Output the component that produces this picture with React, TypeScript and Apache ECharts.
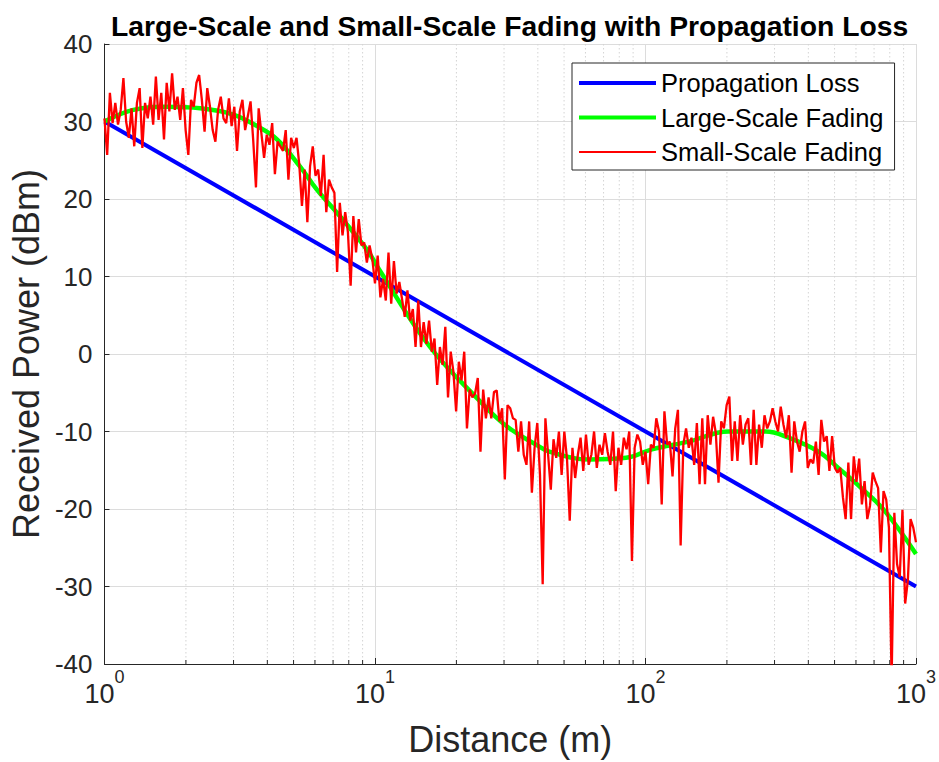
import React, { useEffect, useRef } from "react";
import * as echarts from "echarts";

// Received power vs. distance: deterministic path loss, shadowing trend and fast fading.
const FONT = "'Liberation Sans', Arial, Helvetica, sans-serif";

const seriesNames = ["Propagation Loss", "Large-Scale Fading", "Small-Scale Fading"];

// Propagation loss (dBm) at the end points of the range; a straight line on the log axis.
const propagationDistance = [1, 1000];
const propagationDbm = [30, -30];

// Large-scale (shadowing) trend, distance in m and power in dBm.
const largeScaleDistance = [
  1, 1.279, 1.707, 2.259, 2.989, 3.664, 4.342, 5.278, 6.098, 7.411, 9.32, 10.4, 15.9, 24.3, 30.6,
  39.4, 44.1, 61.9, 84.7, 105.6, 144.5, 203, 278, 338, 436, 516, 628, 769, 1000,
];
const largeScaleDbm = [
  30.0, 31.5, 31.9, 31.7, 30.9, 29.4, 27.7, 24.2, 21.2, 17.8, 13.5, 10.8, 1.0, -6.0, -9.3,
  -11.7, -12.6, -13.6, -13.4, -12.3, -11.3, -10.0, -10.0, -10.8, -12.6, -14.7, -17.3, -20.3, -25.8,
];

// Small-scale fading samples (dBm), 100 samples per decade from 1 m to 1000 m.
const smallScaleDbm = [
  30.4, 25.7, 33.7, 29.8, 32.4, 29.6, 31.5, 35.6, 30.0, 27.9,
  31.7, 26.8, 32.4, 34.3, 26.6, 32.4, 30.4, 33.2, 29.6, 35.8,
  30.2, 33.7, 27.7, 35.0, 31.3, 36.2, 31.5, 33.2, 30.2, 34.3,
  28.9, 25.7, 32.8, 31.9, 35.0, 36.0, 32.8, 28.7, 34.3, 31.9,
  28.9, 27.4, 31.5, 33.2, 30.4, 29.8, 33.0, 29.4, 31.9, 26.2,
  31.3, 32.8, 28.9, 30.7, 32.6, 27.5, 21.5, 31.7, 28.5, 25.3,
  28.3, 27.0, 29.8, 23.2, 27.4, 26.8, 26.2, 28.9, 22.5, 27.9,
  26.6, 27.9, 24.5, 19.1, 23.8, 17.0, 24.2, 26.8, 23.0, 23.8,
  20.4, 25.7, 18.3, 22.5, 21.5, 20.8, 10.6, 19.5, 15.3, 18.3,
  15.7, 8.8, 17.8, 13.1, 17.4, 14.0, 14.4, 11.8, 14.0, 12.3,
  9.1, 12.7, 7.3, 9.7, 6.9, 13.1, 6.5, 12.0, 7.8, 9.3,
  7.1, 4.8, 8.2, 4.3, 5.8, 0.9, 6.9, 0.9, 4.1, 1.3,
  4.3, 0.3, 2.0, -4.0, 0.9, -1.4, 3.5, -5.6, 0.3, -2.3,
  -7.4, -1.0, -3.4, 0.3, -9.6, -4.6, -5.6, -5.1, -3.1, -12.6,
  -4.6, -8.3, -5.6, -8.3, -4.9, -4.7, -8.7, -7.0, -16.2, -6.6,
  -7.0, -8.3, -8.5, -12.6, -8.7, -13.0, -14.3, -8.7, -17.9, -12.1,
  -8.9, -15.6, -29.7, -8.3, -13.0, -17.5, -11.0, -13.4, -10.0, -15.6,
  -10.0, -13.6, -21.5, -12.1, -16.0, -13.0, -10.8, -15.1, -10.4, -14.3,
  -13.0, -10.0, -14.7, -11.7, -13.0, -10.2, -12.6, -14.3, -10.0, -17.7,
  -12.1, -14.3, -10.8, -12.3, -10.0, -26.7, -12.1, -10.4, -11.3, -14.3,
  -12.6, -16.8, -11.7, -12.1, -8.3, -10.0, -19.4, -7.4, -11.7, -11.3,
  -15.8, -9.6, -7.2, -24.7, -11.7, -9.6, -12.1, -10.8, -14.3, -8.9,
  -16.8, -8.3, -16.8, -7.9, -11.7, -8.1, -10.2, -16.6, -8.7, -9.6,
  -6.6, -5.5, -13.8, -8.7, -13.8, -7.9, -11.7, -9.1, -8.3, -14.3,
  -7.2, -14.3, -9.1, -12.1, -7.9, -9.6, -8.7, -7.0, -8.7, -10.0,
  -6.8, -9.1, -10.8, -7.9, -15.3, -8.7, -11.3, -12.6, -10.0, -8.7,
  -14.7, -13.6, -14.1, -11.3, -15.6, -8.5, -11.3, -10.6, -15.1, -10.6,
  -14.7, -15.3, -14.7, -18.5, -21.3, -14.0, -21.3, -13.2, -16.5, -13.5,
  -19.4, -16.4, -21.3, -19.6, -15.3, -16.4, -17.3, -25.6, -17.7, -18.8,
  -22.4, -42.0, -20.5, -27.1, -28.8, -20.1, -32.2, -29.2, -21.3, -22.4,
  -24.3,
];
const samplesPerDecade = 100;

// Minor grid positions of the logarithmic distance axis.
const minorTicks = [2, 3, 4, 5, 6, 7, 8, 9, 20, 30, 40, 50, 60, 70, 80, 90, 200, 300, 400, 500, 600, 700, 800, 900];

// Power axis range and step.
const yMin = -40;
const yMax = 40;
const yStep = 10;

const AXIS_COLOR = "#262626";

// Legend keys: plain line strokes, thick for the two trends and thin for the fading trace.
const THICK_KEY = "path://M0,0H77V4H0Z";
const THIN_KEY = "path://M0,0H77V2H0Z";

export default function App() {
  const ref = useRef<HTMLDivElement>(null);

  useEffect(() => {
    if (!ref.current) return;
    const chart = echarts.init(ref.current, null, { renderer: "svg" });

    const smallScaleData = smallScaleDbm.map((v, i) => [Math.pow(10, i / samplesPerDecade), v]);
    const largeScaleData = largeScaleDistance.map((d, i) => [d, largeScaleDbm[i]]);
    const propagationData = propagationDistance.map((d, i) => [d, propagationDbm[i]]);

    chart.setOption({
      animation: false,
      backgroundColor: "#ffffff",
      title: {
        text: "Large-Scale and Small-Scale Fading with Propagation Loss",
        left: 106,
        top: 7,
        textStyle: { fontFamily: FONT, fontSize: 28.3, fontWeight: "bold", color: "#000000" },
      },
      grid: { left: 104, right: 21, top: 44, bottom: 95, containLabel: false },
      legend: {
        data: [
          { name: seriesNames[0], icon: THICK_KEY },
          { name: seriesNames[1], icon: THICK_KEY },
          { name: seriesNames[2], icon: THIN_KEY },
        ],
        orient: "vertical",
        left: 572,
        top: 63,
        padding: [7, 11, 5, 7],
        itemGap: 8.5,
        itemWidth: 77,
        itemHeight: 14,
        symbolKeepAspect: true,
        backgroundColor: "#ffffff",
        borderColor: AXIS_COLOR,
        borderWidth: 1,
        borderRadius: 0,
        textStyle: { fontFamily: FONT, fontSize: 25.5, lineHeight: 26, color: "#000000" },
      },
      xAxis: {
        type: "log",
        logBase: 10,
        min: 1,
        max: 1000,
        name: "Distance (m)",
        nameLocation: "middle",
        nameGap: 57,
        nameTextStyle: { fontFamily: FONT, fontSize: 36, color: AXIS_COLOR },
        axisLine: { show: true, onZero: false, lineStyle: { color: AXIS_COLOR, width: 1 } },
        axisTick: { show: true, inside: true, length: 6, lineStyle: { color: AXIS_COLOR } },
        axisLabel: {
          margin: 4,
          formatter: (v: number) => `{b|10}{e|${Math.round(Math.log10(v))}}`,
          rich: {
            b: { fontFamily: FONT, fontSize: 27, color: AXIS_COLOR, padding: [12, 0, 0, 0] },
            e: { fontFamily: FONT, fontSize: 18, color: AXIS_COLOR, verticalAlign: "top" },
          },
        },
        splitLine: { show: true, lineStyle: { color: "#dcdcdc", width: 1 } },
      },
      yAxis: {
        type: "value",
        min: yMin,
        max: yMax,
        interval: yStep,
        name: "Received Power (dBm)",
        nameLocation: "middle",
        nameGap: 56,
        nameTextStyle: { fontFamily: FONT, fontSize: 36, color: AXIS_COLOR },
        axisLine: { show: true, lineStyle: { color: AXIS_COLOR, width: 1 } },
        axisTick: { show: true, inside: true, length: 5, lineStyle: { color: AXIS_COLOR } },
        axisLabel: { margin: 12, fontFamily: FONT, fontSize: 26, color: AXIS_COLOR },
        splitLine: { show: true, lineStyle: { color: "#dcdcdc", width: 1 } },
      },
      series: [
        {
          type: "custom",
          name: "minor-grid",
          silent: true,
          z: 1,
          clip: false,
          data: minorTicks.map((d) => [d, yMin]),
          encode: { x: 0, y: 1 },
          renderItem: (_params: any, api: any) => {
            const d = api.value(0);
            const top = api.coord([d, yMax]);
            const bottom = api.coord([d, yMin]);
            return {
              type: "group",
              children: [
                {
                  type: "line",
                  shape: { x1: top[0], y1: top[1], x2: bottom[0], y2: bottom[1] },
                  style: { stroke: "#d4d4d4", lineWidth: 1, lineDash: [1.5, 2.5] },
                },
                {
                  type: "line",
                  shape: { x1: bottom[0], y1: bottom[1], x2: bottom[0], y2: bottom[1] - 4 },
                  style: { stroke: AXIS_COLOR, lineWidth: 1 },
                },
              ],
            };
          },
        },
        {
          type: "line",
          name: seriesNames[0],
          data: propagationData,
          symbol: "none",
          z: 3,
          lineStyle: { color: "#0000ff", width: 4 },
          itemStyle: { color: "#0000ff" },
        },
        {
          type: "line",
          name: seriesNames[1],
          data: largeScaleData,
          symbol: "none",
          smooth: 0.4,
          z: 4,
          lineStyle: { color: "#00ff00", width: 4.5 },
          itemStyle: { color: "#00ff00" },
        },
        {
          type: "line",
          name: seriesNames[2],
          data: smallScaleData,
          symbol: "none",
          z: 5,
          lineStyle: { color: "#ff0000", width: 2.3 },
          itemStyle: { color: "#ff0000" },
        },
      ],
    });

    return () => chart.dispose();
  }, []);

  return (
    <div
      ref={ref}
      style={{ position: "absolute", left: 0, top: 0, width: 939, height: 762 }}
    />
  );
}
